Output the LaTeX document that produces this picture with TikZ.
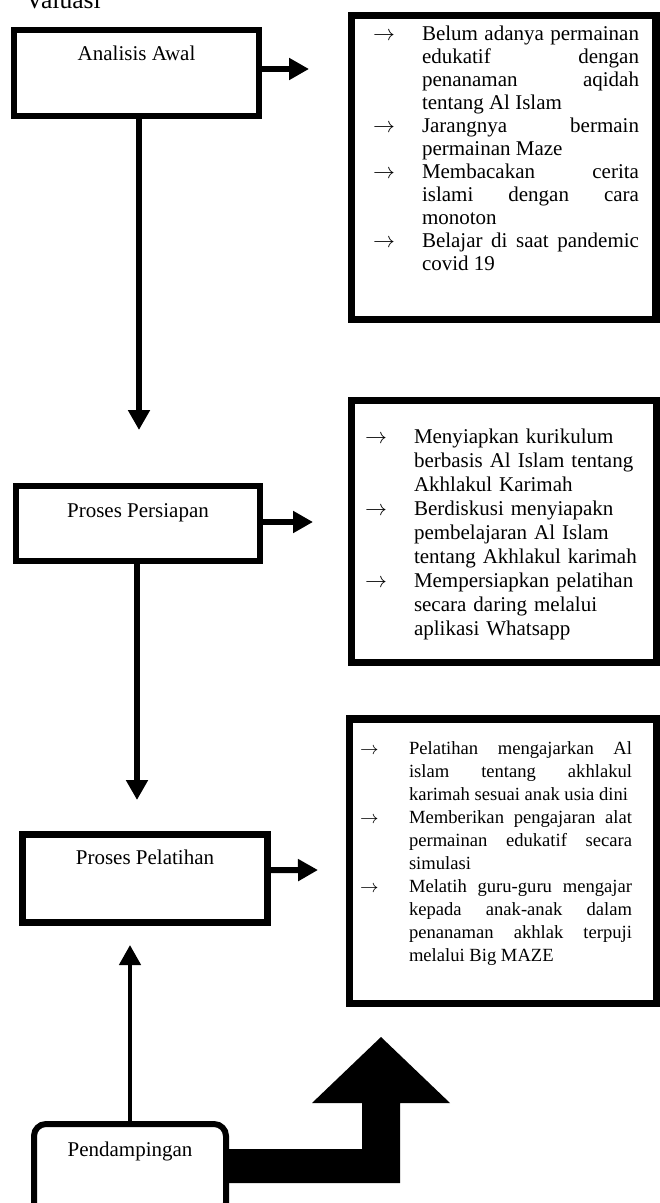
\documentclass[tikz,border=0pt]{standalone}
\usepackage{fontspec}
\setmainfont{Liberation Serif}
\usetikzlibrary{arrows.meta}

\newlength{\hangw}
\newcommand{\butir}[1]{\par\noindent\hangindent=\hangw\hangafter=1\makebox[\hangw][l]{$\rightarrow$}#1\par}

\begin{document}
\begin{tikzpicture}[x=0.5pt,y=-0.5pt,
	kotak/.style={rectangle,draw,inner sep=0pt,outer sep=0pt,font=\fontsize{10.5}{12}\selectfont,text height=7.5pt},
	bingkai/.style={rectangle,draw,inner sep=0pt,outer sep=0pt},
	daftar/.style={anchor=north west,inner sep=0pt,outer sep=0pt,
		execute at begin node={\tolerance=10000\hyphenpenalty=10000\setlength{\hangw}{24.5pt}}},
	panah/.style={line width=3pt,-{Triangle[length=10pt,width=10.5pt]}}]
		\useasboundingbox (0,0) rectangle (659,1203);

		\node[anchor=base west,inner sep=0pt,font=\fontsize{12.8}{14}\selectfont] (judul) at (25,9) {Valuasi};

		\node[kotak,line width=3pt,minimum width=122.5pt,minimum height=43pt,text depth=19.5pt] (awal) at (136.5,73) {Analisis Awal};
		\node[kotak,line width=3pt,minimum width=122pt,minimum height=37.5pt,text depth=14pt] (persiapan) at (138,523.5) {Proses Persiapan};
		\node[kotak,line width=3.5pt,minimum width=122.5pt,minimum height=43.75pt,text depth=21.75pt] (pelatihan) at (145,878.25) {Proses Pelatihan};
		\node[kotak,line width=3pt,rounded corners=6pt,minimum width=96pt,minimum height=45.5pt,text depth=20.5pt] (dampingan) at (130,1169.5) {Pendampingan};

		\node[bingkai,line width=3.75pt,minimum width=152.25pt,minimum height=152pt] (awalBox) at (503.75,167.5) {};
		\node[bingkai,line width=3.5pt,minimum width=152.25pt,minimum height=131pt] (persiapanBox) at (503.75,531.5) {};
		\node[bingkai,line width=3.75pt,minimum width=153.5pt,minimum height=142.25pt] (pelatihanBox) at (503,861.25) {};

		% isi kotak kanan
		\node[daftar,text width=133pt,align=justify,font=\fontsize{10.5}{11.5}\selectfont] (awalList) at (373,18) {%
			\butir{Belum adanya permainan\linebreak edukatif dengan\linebreak penanaman aqidah\linebreak tentang Al Islam}
			\butir{Jarangnya bermain\linebreak permainan Maze}
			\butir{Membacakan cerita\linebreak islami dengan cara\linebreak monoton}
			\butir{Belajar di saat pandemic\linebreak covid 19}};
		\node[daftar,text width=136pt,align=left,font=\fontsize{10.5}{12}\selectfont] (persiapanList) at (365,419) {%
			\butir{Menyiapkan kurikulum\linebreak berbasis Al Islam tentang\linebreak Akhlakul Karimah}
			\butir{Berdiskusi menyiapakn\linebreak pembelajaran Al Islam\linebreak tentang Akhlakul karimah}
			\butir{Mempersiapkan pelatihan\linebreak secara daring melalui\linebreak aplikasi Whatsapp}};
		\node[daftar,text width=136pt,align=justify,font=\fontsize{9.3}{11.5}\selectfont] (pelatihanList) at (360,731) {%
			\butir{Pelatihan mengajarkan Al\linebreak islam tentang akhlakul\linebreak karimah sesuai anak usia dini}
			\butir{Memberikan pengajaran alat\linebreak permainan edukatif secara\linebreak simulasi}
			\butir{Melatih guru-guru mengajar\linebreak kepada anak-anak dalam\linebreak penanaman akhlak terpuji\linebreak melalui Big MAZE}};

		\coordinate (awalTip) at (309,69);
		\coordinate (persiapanTip) at (313,522);
		\coordinate (pelatihanTip) at (318,870);
		\coordinate (awalTurun) at (139,430);
		\coordinate (persiapanTurun) at (137,800);
		\coordinate (dampinganNaik) at (130,945);

		\draw[panah] ([yshift=2pt]awal.east) -- (awalTip);
		\draw[panah] ([yshift=0.75pt]persiapan.east) -- (persiapanTip);
		\draw[panah] ([yshift=4pt]pelatihan.east) -- (pelatihanTip);
		\draw[panah,line width=3.25pt] ([xshift=1.25pt]awal.south) -- (awalTurun);
		\draw[panah,line width=3.25pt] ([xshift=-0.5pt]persiapan.south) -- (persiapanTurun);
		\draw[panah,line width=2.25pt] (dampingan.north) -- (dampinganNaik);

		% panah blok besar
		\fill ([yshift=10.25pt]dampingan.east) -- ++(136,0) -- ++(0,-46) -- ++(-50,0) -- ++(69,-66)
			-- ++(69,66) -- ++(-50,0) -- ++(0,80) -- ++(-174,0) -- cycle;
	\end{tikzpicture}
\end{document}
